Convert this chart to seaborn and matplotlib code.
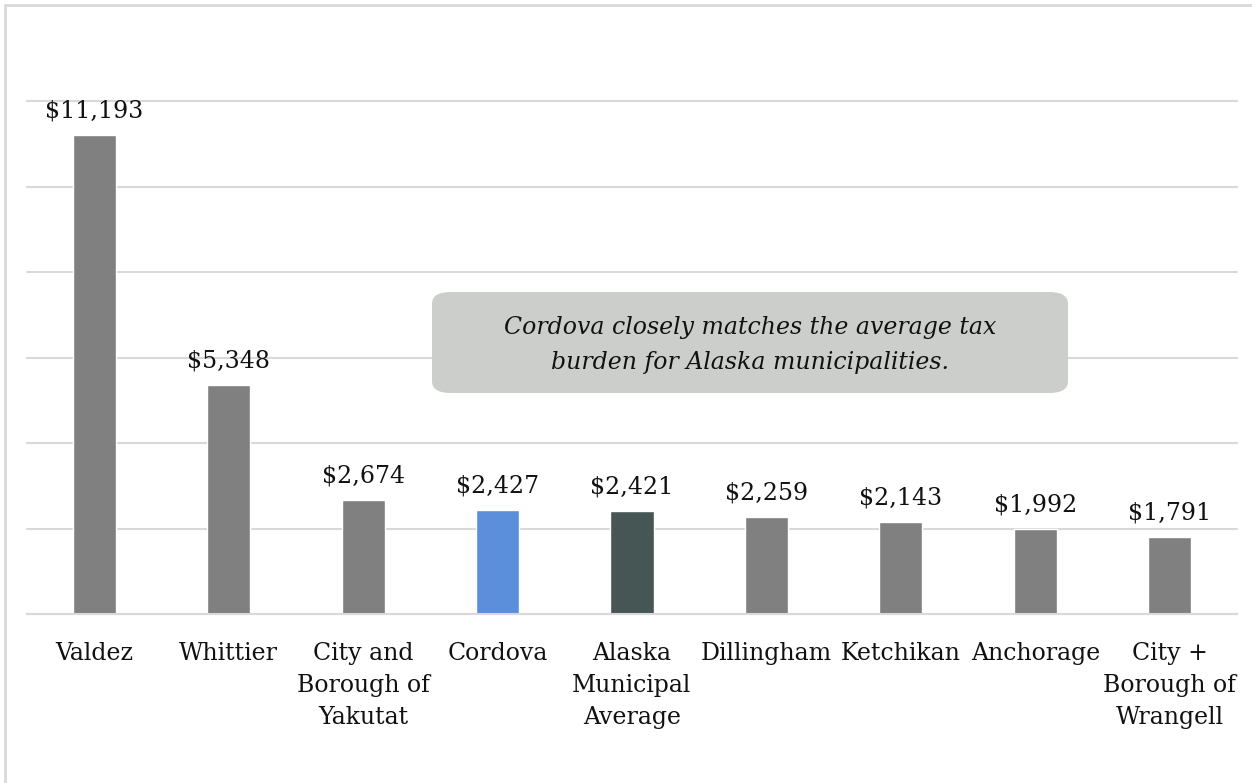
import matplotlib
matplotlib.use("Agg")
import matplotlib.pyplot as plt
import seaborn as sns
import pandas as pd
from matplotlib.patches import FancyBboxPatch
from matplotlib.lines import Line2D

# Per-capita tax burden by municipality
places = ["Valdez", "Whittier", "City and\nBorough of\nYakutat", "Cordova",
          "Alaska\nMunicipal\nAverage", "Dillingham", "Ketchikan", "Anchorage",
          "City +\nBorough of\nWrangell"]
tax = [11193, 5348, 2674, 2427, 2421, 2259, 2143, 1992, 1791]
bar_colors = ["#808080", "#808080", "#808080", "#5B8FDB", "#465654",
              "#808080", "#808080", "#808080", "#808080"]
note = "Cordova closely matches the average tax\nburden for Alaska municipalities."

df = pd.DataFrame({"place": places, "tax": tax})

sns.set_theme(style="white")
plt.rcParams["font.family"] = ["DejaVu Serif"]

fig = plt.figure(figsize=(12.52, 7.83), dpi=100)
ax = fig.add_axes([27 / 1252, (783 - 614) / 783, 1210 / 1252, 513 / 783])

sns.barplot(data=df, x="place", y="tax", hue="place", palette=bar_colors,
            width=0.32, legend=False, ax=ax, saturation=1)

ax.set_ylim(0, 12000)
ax.set_yticks(range(0, 12001, 2000))
ax.yaxis.grid(True, color="#D9D9D9", linewidth=1.5)
for gl in ax.get_ygridlines():
    gl.set_clip_on(False)
ax.set_axisbelow(True)
ax.tick_params(axis="y", left=False, labelleft=False)
ax.tick_params(axis="x", bottom=False, pad=14, labelsize=17, labelcolor="#111111")
for lbl in ax.get_xticklabels():
    lbl.set_linespacing(1.5)
for s in ["top", "right", "left"]:
    ax.spines[s].set_visible(False)
ax.spines["bottom"].set_color("#D9D9D9")
ax.spines["bottom"].set_linewidth(1.5)
ax.set_xlabel("")
ax.set_ylabel("")

for container in ax.containers:
    ax.bar_label(container, labels=[f"${v:,.0f}" for v in container.datavalues],
                 padding=9, fontsize=17, color="#111111")

# callout box
box = FancyBboxPatch((432 / 1252, (783 - 393) / 783), 636 / 1252, 101 / 783,
                     boxstyle="round,pad=0,rounding_size=0.015",
                     transform=fig.transFigure, facecolor="#CCCECB",
                     edgecolor="none", zorder=5)
fig.patches.append(box)
fig.text(750 / 1252, (783 - 345) / 783, note, ha="center", va="center",
         fontsize=17, style="italic", linespacing=1.7, color="#111111", zorder=6)

# chart frame (top and left visible)
fig.lines.append(Line2D([5 / 1252, 5 / 1252], [0, 1 - 5 / 783], transform=fig.transFigure,
                        color="#D9D9D9", linewidth=2))
fig.lines.append(Line2D([5 / 1252, 1], [1 - 5 / 783, 1 - 5 / 783], transform=fig.transFigure,
                        color="#D9D9D9", linewidth=2))

fig.savefig("out.png", dpi=100, facecolor="white")
